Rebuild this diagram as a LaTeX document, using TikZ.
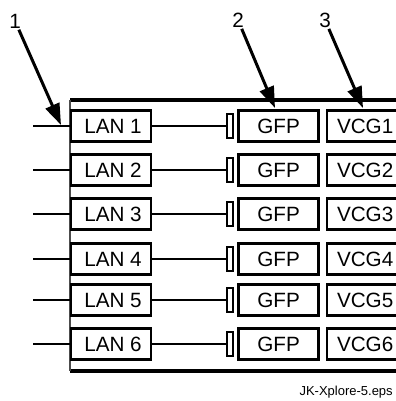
\documentclass[tikz,border=0pt]{standalone}
\usepackage{fontspec}
\setmainfont{Liberation Sans}
\usetikzlibrary{arrows.meta, positioning}

\begin{document}
\begin{tikzpicture}[
    x=0.75pt, y=-0.75pt,
    node distance=3pt,
    box/.style={draw, line width=1.8pt, minimum height=23.5pt, inner sep=0pt, font=\fontsize{15.5}{18}\selectfont},
    lanbox/.style={box, minimum width=60pt},
    gfpbox/.style={box, minimum width=60pt},
    vcgbox/.style={box, text width=52.5pt, inner xsep=7.5pt, align=left},
    plug/.style={draw, line width=1.4pt, minimum width=4.5pt, minimum height=18.5pt, inner sep=0pt},
    wire/.style={line width=1.7pt},
    frame/.style={line width=2.6pt},
    arr/.style={-{Triangle[length=16pt, width=11pt]}, line width=2.25pt},
    num/.style={font=\fontsize{15.5}{18}\selectfont, inner sep=1pt}
  ]
  \useasboundingbox (0,0) rectangle (396,401);
  \clip (0,0) rectangle (396,401);

  % enclosure
  \draw[frame] (70,100) -- (400,100);
  \draw[frame] (70,371) -- (400,371);
  \draw[line width=0.9pt, black!70] (70,100) -- (70,371);

  % rows
  \foreach \i/\y in {1/126, 2/170, 3/214, 4/259, 5/300, 6/344} {
    \node[lanbox] (lan\i) at (111,\y) {\hspace*{3pt}LAN \i};
    \node[plug, right=55.5pt of lan\i] (plug\i) {};
    \node[gfpbox, right=2.5pt of plug\i] (gfp\i) {GFP};
    \node[vcgbox, right=4.5pt of gfp\i] (vcg\i) {VCG\i};
    \coordinate (in\i) at (33,\y);
    \draw[wire] (in\i) -- (lan\i);
    \draw[wire] (lan\i) -- (plug\i);
  }

  % callouts
  \node[num] (n1) at (15,21) {1};
  \node[num] (n2) at (238,20) {2};
  \node[num] (n3) at (325,20) {3};
  \coordinate (t1) at (61,125);
  \coordinate (t2) at (275,108);
  \coordinate (t3) at (363,108);
  \draw[arr] (n1) -- (t1);
  \draw[arr] (n2) -- (t2);
  \draw[arr] (n3) -- (t3);

  \node[anchor=base east, font=\fontsize{9.75}{12}\selectfont, inner sep=0pt] (cap) at (393,395) {JK-Xplore-5.eps};
\end{tikzpicture}
\end{document}
